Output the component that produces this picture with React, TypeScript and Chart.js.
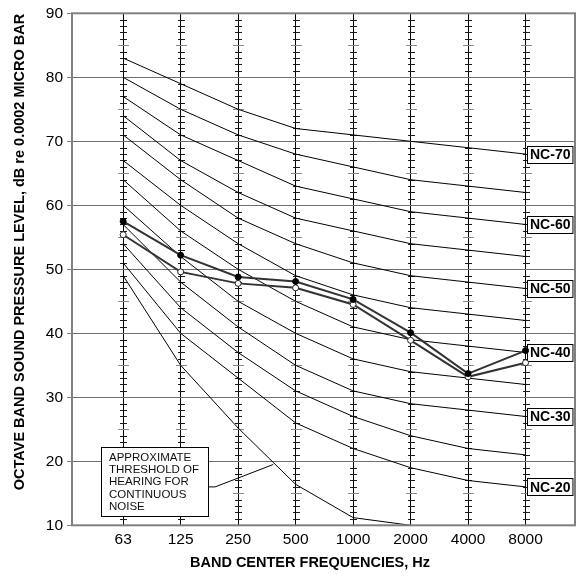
import React, { useEffect, useRef } from 'react';
import { Chart, registerables } from 'chart.js';

Chart.register(...registerables);

const frequencies = ['63', '125', '250', '500', '1000', '2000', '4000', '8000'];
const yTicks = [10, 20, 30, 40, 50, 60, 70, 80, 90];

const nc20 = [51, 40, 33, 26, 22, 19, 17, 16];
const nc25 = [54, 44, 37, 31, 27, 24, 22, 21];
const nc30 = [57, 48, 41, 35, 31, 29, 28, 27];
const nc35 = [60, 52, 45, 40, 36, 34, 33, 32];
const nc40 = [64, 56, 50, 45, 41, 39, 38, 37];
const nc45 = [67, 60, 54, 49, 46, 44, 43, 42];
const nc50 = [71, 64, 58, 54, 51, 49, 48, 47];
const nc55 = [74, 67, 62, 58, 56, 54, 53, 52];
const nc60 = [77, 71, 67, 63, 61, 59, 58, 57];
const nc65 = [80, 75, 71, 68, 66, 64, 63, 62];
const nc70 = [83, 79, 75, 72, 71, 70, 69, 68];

const threshold = [49, 35, 25.2, 16.4, 11.2, 10];

const measuredFilled = [57.5, 52.2, 48.8, 48.1, 45.3, 40.1, 33.7, 37.3];
const measuredOpen = [55.4, 49.6, 47.8, 47.1, 44.5, 38.9, 33.2, 35.4];

const ncCurves = [nc20, nc25, nc30, nc35, nc40, nc45, nc50, nc55, nc60, nc65, nc70];
const ncLabels = [
  { text: 'NC-20', values: nc20 },
  { text: 'NC-30', values: nc30 },
  { text: 'NC-40', values: nc40 },
  { text: 'NC-50', values: nc50 },
  { text: 'NC-60', values: nc60 },
  { text: 'NC-70', values: nc70 },
];

const noteLines = ['APPROXIMATE', 'THRESHOLD OF', 'HEARING FOR', 'CONTINUOUS', 'NOISE'];
// annotation box in data units
const noteBox = { x0: -0.39, x1: 1.48, y0: 22.2, y1: 11.45 };
const notePointer = [
  { x: 1.48, y: 16.0 },
  { x: 1.6, y: 16.0 },
  { x: 2.61, y: 19.5 },
];

const xTitle = 'BAND CENTER FREQUENCIES, Hz';
const yTitle = 'OCTAVE BAND SOUND PRESSURE LEVEL, dB re 0.0002 MICRO BAR';

const FONT = "Arial, 'Liberation Sans', Helvetica, sans-serif";

const toXY = (arr: number[]) => arr.map((v, i) => ({ x: i, y: v }));

const decorPlugin = {
  id: 'ncDecor',
  beforeDatasetsDraw(chart: any) {
    const { ctx, scales } = chart;
    const x = scales.x;
    const y = scales.y;
    ctx.save();
    // dB tick marks along the vertical frequency lines
    frequencies.forEach((_, i) => {
      const px = Math.round(x.getPixelForValue(i)) + 0.5;
      for (let v = 11; v < 90; v++) {
        if (v % 10 === 0) continue;
        const py = Math.round(y.getPixelForValue(v)) + 0.5;
        const major = v % 5 === 0;
        const half = major ? 5.5 : 3.5;
        ctx.strokeStyle = major ? '#8a8a8a' : '#1a1a1a';
        ctx.lineWidth = 1;
        ctx.beginPath();
        ctx.moveTo(px - half, py);
        ctx.lineTo(px + half, py);
        ctx.stroke();
      }
    });
    // NC labels
    ctx.font = `bold 14px ${FONT}`;
    ctx.textBaseline = 'middle';
    ctx.textAlign = 'left';
    ncLabels.forEach((l) => {
      const px = x.getPixelForValue(frequencies.length - 1);
      const py = y.getPixelForValue(l.values[l.values.length - 1]);
      const w = ctx.measureText(l.text).width + 5;
      const h = 17;
      const left = Math.round(px) + 1.5;
      const top = Math.round(py - h / 2) + 0.5;
      ctx.fillStyle = '#fff';
      ctx.fillRect(left, top, w, h);
      ctx.strokeStyle = '#000';
      ctx.lineWidth = 1;
      ctx.strokeRect(left, top, w, h);
      ctx.fillStyle = '#000';
      ctx.fillText(l.text, left + 2.5, py + 1);
    });
    ctx.restore();
  },
  afterDatasetsDraw(chart: any) {
    const { ctx, scales } = chart;
    const x = scales.x;
    const y = scales.y;
    ctx.save();
    const bx0 = Math.round(x.getPixelForValue(noteBox.x0)) + 0.5;
    const bx1 = Math.round(x.getPixelForValue(noteBox.x1)) + 0.5;
    const by0 = Math.round(y.getPixelForValue(noteBox.y0)) + 0.5;
    const by1 = Math.round(y.getPixelForValue(noteBox.y1)) + 0.5;
    ctx.fillStyle = '#fff';
    ctx.fillRect(bx0, by0, bx1 - bx0, by1 - by0);
    ctx.strokeStyle = '#000';
    ctx.lineWidth = 1;
    ctx.strokeRect(bx0, by0, bx1 - bx0, by1 - by0);
    ctx.font = `11.5px ${FONT}`;
    ctx.fillStyle = '#111';
    ctx.textAlign = 'left';
    ctx.textBaseline = 'middle';
    noteLines.forEach((t, i) => {
      ctx.fillText(t, bx0 + 7.5, by0 + 10 + i * 12.4);
    });
    ctx.beginPath();
    notePointer.forEach((p, i) => {
      const px = x.getPixelForValue(p.x);
      const py = y.getPixelForValue(p.y);
      if (i === 0) ctx.moveTo(px, py);
      else ctx.lineTo(px, py);
    });
    ctx.strokeStyle = '#000';
    ctx.lineWidth = 1;
    ctx.stroke();
    ctx.restore();
  },
  afterDraw(chart: any) {
    const { ctx, chartArea } = chart;
    ctx.save();
    ctx.strokeStyle = '#808080';
    ctx.lineWidth = 2;
    ctx.strokeRect(chartArea.left, chartArea.top, chartArea.right - chartArea.left, chartArea.bottom - chartArea.top);
    ctx.fillStyle = '#000';
    ctx.font = `bold 14.5px ${FONT}`;
    ctx.textAlign = 'center';
    ctx.textBaseline = 'middle';
    ctx.fillText(xTitle, 310, 563);
    ctx.translate(20, 252);
    ctx.rotate(-Math.PI / 2);
    ctx.fillText(yTitle, 0, 0);
    ctx.restore();
  },
};

export default function App() {
  const ref = useRef<HTMLCanvasElement | null>(null);
  useEffect(() => {
    if (!ref.current) return;
    const datasets: any[] = [
      {
        data: toXY(measuredFilled),
        borderColor: '#333',
        borderWidth: 2,
        pointRadius: 3,
        pointBackgroundColor: '#000',
        pointBorderColor: '#000',
        pointBorderWidth: 1,
      },
      {
        data: toXY(measuredOpen),
        borderColor: '#333',
        borderWidth: 2,
        pointRadius: 3,
        pointBackgroundColor: '#fff',
        pointBorderColor: '#222',
        pointBorderWidth: 1,
      },
      {
        data: toXY(threshold),
        borderColor: '#000',
        borderWidth: 1,
        pointRadius: 0,
      },
      ...ncCurves.map((c) => ({
        data: toXY(c),
        borderColor: '#000',
        borderWidth: 1,
        pointRadius: 0,
      })),
    ];
    const chart = new Chart(ref.current, {
      type: 'line',
      data: { datasets },
      plugins: [decorPlugin],
      options: {
        animation: false,
        responsive: false,
        devicePixelRatio: 1,
        layout: { padding: { top: 11.7, right: 10, left: 0, bottom: 0 } },
        plugins: { legend: { display: false }, tooltip: { enabled: false } },
        elements: { line: { tension: 0, fill: false } },
        scales: {
          x: {
            type: 'linear',
            min: -0.89,
            max: 7.86,
            afterFit: (s: any) => {
              s.height = 50.7;
            },
            afterBuildTicks: (s: any) => {
              s.ticks = frequencies.map((_, i) => ({ value: i }));
            },
            grid: { color: '#000', lineWidth: 1, drawTicks: false },
            border: { display: false },
            ticks: {
              padding: 5,
              color: '#000',
              font: { family: FONT, size: 15.5 },
              autoSkip: false,
              maxRotation: 0,
              callback: (v: any) => frequencies[v] ?? '',
            },
          },
          y: {
            min: 10,
            max: 90,
            afterFit: (s: any) => {
              s.width = 72;
            },
            afterBuildTicks: (s: any) => {
              s.ticks = yTicks.map((v) => ({ value: v }));
            },
            grid: { color: '#6f6f6f', lineWidth: 1, tickLength: 5, tickColor: '#808080' },
            border: { display: false },
            ticks: {
              padding: 4,
              color: '#000',
              font: { family: FONT, size: 15.5 },
            },
          },
        },
      },
    });
    return () => chart.destroy();
  }, []);
  return (
    <div style={{ position: 'absolute', left: 0, top: 0, width: 585, height: 576, background: '#fff' }}>
      <canvas ref={ref} width={585} height={576} style={{ display: 'block' }} />
    </div>
  );
}
